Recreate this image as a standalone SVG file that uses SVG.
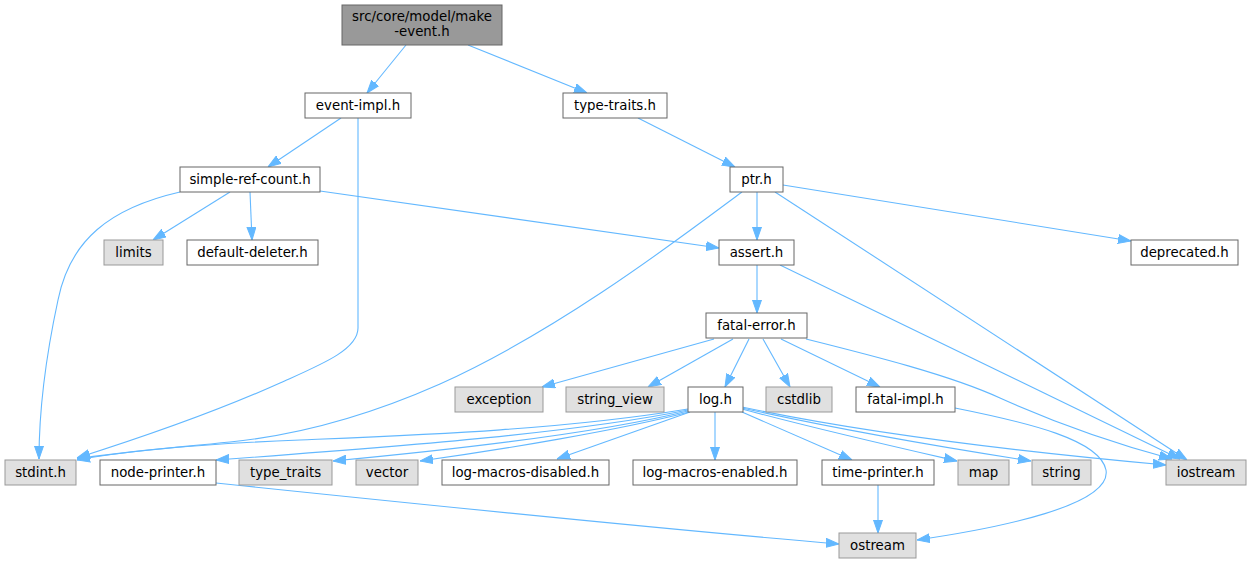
<svg xmlns="http://www.w3.org/2000/svg" width="1251" height="564" viewBox="0 0 1251 564">
<style>
text{font-family:"DejaVu Sans","Liberation Sans",sans-serif;font-size:13.33px;fill:#000;text-anchor:middle}
.n rect{fill:#fff;stroke:#666;stroke-width:1}
.s rect{fill:#e0e0e0;stroke:#999;stroke-width:1}
.r rect{fill:#999;stroke:#666;stroke-width:1}
#edges path{fill:none;stroke:#63b8ff;stroke-width:1.1;marker-end:url(#arr)}
</style>
<defs>
<marker id="arr" markerUnits="userSpaceOnUse" markerWidth="13" markerHeight="10" viewBox="0 0 13 10" refX="13" refY="5" orient="auto">
<path d="M0,0.5 L13,5 L0,9.5 z" fill="#63b8ff" stroke="#63b8ff" stroke-width="1"/>
</marker>
</defs>
<rect width="1251" height="564" fill="#fff"/>
<g id="edges">
<path d="M406,45 L367,93"/>
<path d="M468,45 L587,93"/>
<path d="M341,118 L268,167"/>
<path d="M358,118 V328 C358,350 320,365 280,383 C220,410 140,438 77,458"/>
<path d="M180,192 C110,208 70,240 58,300 C44,365 39,420 39,459"/>
<path d="M230,192 L153,240"/>
<path d="M250,192 L252,240"/>
<path d="M320,191 L719,248"/>
<path d="M638,118 L735,167"/>
<path d="M757,192 L757,240"/>
<path d="M742,192 C680,238 560,330 440,384 C370,415 300,435 230,442 C160,449 110,453 77,459"/>
<path d="M775,192 L1187,460"/>
<path d="M783,185 L1131,241"/>
<path d="M757,265 L757,313"/>
<path d="M780,265 L1180,459"/>
<path d="M714,339 L542,387"/>
<path d="M733,339 L648,387"/>
<path d="M749,339 L725,387"/>
<path d="M763,339 L790,387"/>
<path d="M781,339 L880,387"/>
<path d="M806,339 C870,355 950,375 1000,398 C1060,425 1120,445 1172,459"/>
<path d="M955,408 C1030,423 1100,440 1106,470 C1112,505 1000,528 917,540"/>
<path d="M688,409 C560,430 420,435 300,440 C200,444 120,452 77,460"/>
<path d="M688,410 C580,432 420,445 216,460"/>
<path d="M688,411 C600,433 450,450 333,461"/>
<path d="M689,412 C620,430 500,450 420,461"/>
<path d="M690,412 L557,459"/>
<path d="M715,412 L715,460"/>
<path d="M742,412 L852,460"/>
<path d="M742,409 C820,430 900,448 957,461"/>
<path d="M742,408 C850,432 960,450 1031,461"/>
<path d="M742,407 C850,430 1000,450 1166,465"/>
<path d="M216,483 C350,497 650,528 839,544"/>
<path d="M878,485 L878,533"/>
</g>
<g id="make-event" class="r"><rect x="342" y="5" width="160" height="40"/><text x="422" y="21">src/core/model/make</text><text x="422" y="36">-event.h</text></g>
<g id="event-impl" class="n"><rect x="305" y="93" width="106" height="25"/><text x="358" y="110">event-impl.h</text></g>
<g id="type-traits" class="n"><rect x="563" y="93" width="104" height="25"/><text x="615" y="110">type-traits.h</text></g>
<g id="simple-ref-count" class="n"><rect x="180" y="167" width="140" height="25"/><text x="250" y="184">simple-ref-count.h</text></g>
<g id="ptr" class="n"><rect x="730" y="167" width="53" height="25"/><text x="756.5" y="184">ptr.h</text></g>
<g id="limits" class="s"><rect x="104" y="240" width="59" height="25"/><text x="133.5" y="257">limits</text></g>
<g id="default-deleter" class="n"><rect x="187" y="240" width="131" height="25"/><text x="252.5" y="257">default-deleter.h</text></g>
<g id="assert" class="n"><rect x="719" y="240" width="75" height="25"/><text x="756.5" y="257">assert.h</text></g>
<g id="deprecated" class="n"><rect x="1131" y="240" width="107" height="25"/><text x="1184.5" y="257">deprecated.h</text></g>
<g id="fatal-error" class="n"><rect x="706" y="313" width="101" height="25"/><text x="756.5" y="330">fatal-error.h</text></g>
<g id="exception" class="s"><rect x="455" y="387" width="88" height="25"/><text x="499" y="404">exception</text></g>
<g id="string_view" class="s"><rect x="566" y="387" width="98" height="25"/><text x="615" y="404">string_view</text></g>
<g id="log" class="n"><rect x="688" y="387" width="55" height="25"/><text x="715.5" y="404">log.h</text></g>
<g id="cstdlib" class="s"><rect x="766" y="387" width="66" height="25"/><text x="799" y="404">cstdlib</text></g>
<g id="fatal-impl" class="n"><rect x="856" y="387" width="99" height="25"/><text x="905.5" y="404">fatal-impl.h</text></g>
<g id="stdint" class="s"><rect x="5" y="460" width="71" height="25"/><text x="40.5" y="477">stdint.h</text></g>
<g id="node-printer" class="n"><rect x="100" y="460" width="116" height="25"/><text x="158" y="477">node-printer.h</text></g>
<g id="type_traits" class="s"><rect x="239" y="460" width="93" height="25"/><text x="285.5" y="477">type_traits</text></g>
<g id="vector" class="s"><rect x="356" y="460" width="62" height="25"/><text x="387" y="477">vector</text></g>
<g id="log-macros-disabled" class="n"><rect x="442" y="460" width="167" height="25"/><text x="525.5" y="477">log-macros-disabled.h</text></g>
<g id="log-macros-enabled" class="n"><rect x="633" y="460" width="164" height="25"/><text x="715" y="477">log-macros-enabled.h</text></g>
<g id="time-printer" class="n"><rect x="822" y="460" width="112" height="25"/><text x="878" y="477">time-printer.h</text></g>
<g id="map" class="s"><rect x="958" y="460" width="51" height="25"/><text x="983.5" y="477">map</text></g>
<g id="string" class="s"><rect x="1032" y="460" width="59" height="25"/><text x="1061.5" y="477">string</text></g>
<g id="iostream" class="s"><rect x="1166" y="460" width="80" height="25"/><text x="1206" y="477">iostream</text></g>
<g id="ostream" class="s"><rect x="839" y="533" width="77" height="25"/><text x="877.5" y="550">ostream</text></g>
</svg>
